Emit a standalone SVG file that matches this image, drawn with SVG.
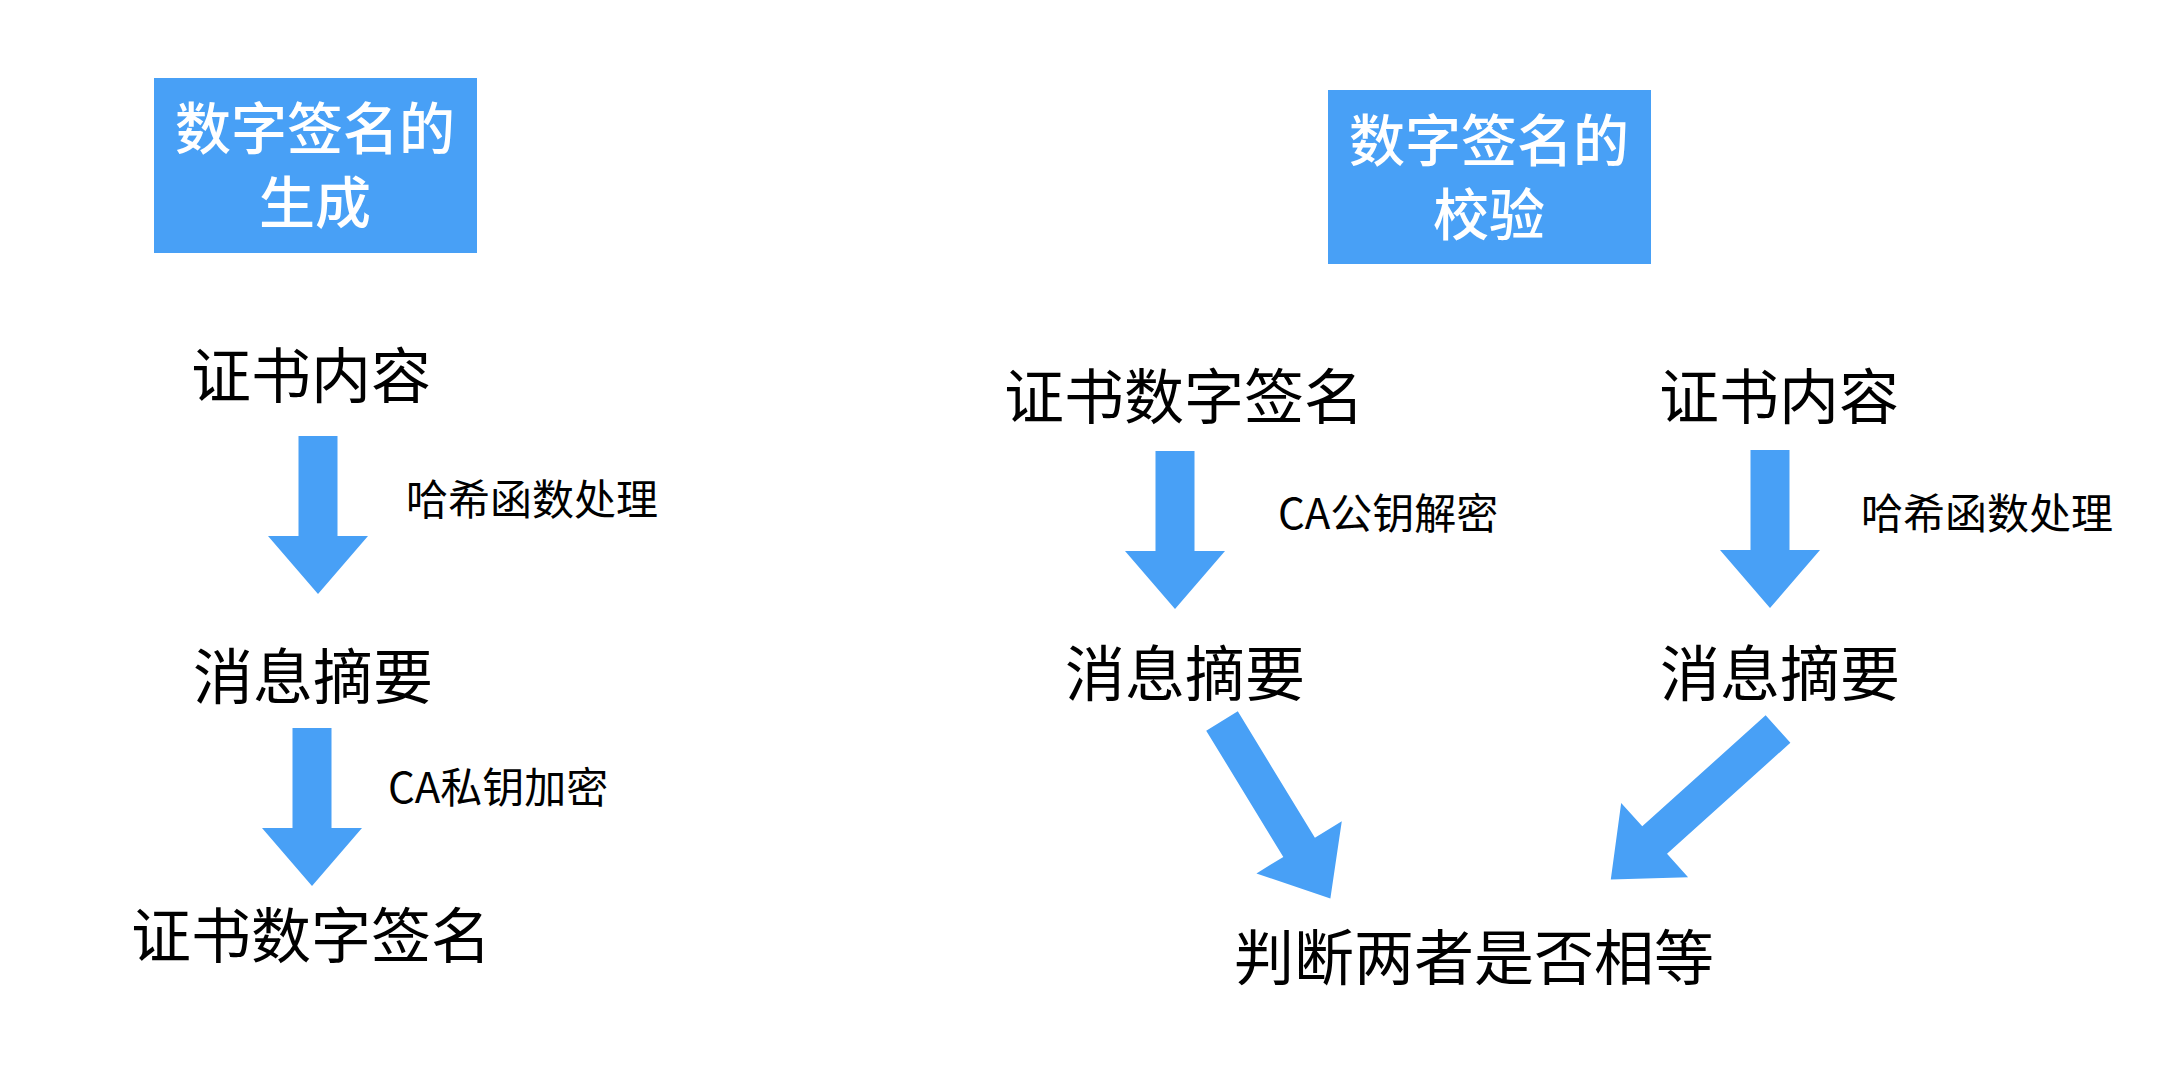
<svg xmlns="http://www.w3.org/2000/svg" xmlns:xlink="http://www.w3.org/1999/xlink" width="2182" height="1074" viewBox="0 0 2182 1074">
<style>
.box{fill:#48A0F6}
.arrow{fill:#48A0F6}
.title{font-family:"Noto Sans CJK SC","Noto Sans",sans-serif;font-size:56px;font-weight:500;fill:#ffffff;text-anchor:middle}
.main{font-family:"Noto Sans CJK SC","Noto Sans",sans-serif;font-size:60px;font-weight:400;fill:#000000;text-anchor:middle}
.label{font-family:"Noto Sans CJK SC","Noto Sans",sans-serif;font-size:42px;font-weight:400;fill:#000000}
</style>
<defs>
<path id="down" d="M-19.5,0 H19.5 V100 H50 L0,158 L-50,100 H-19.5 Z"/>
</defs>
<rect width="2182" height="1074" fill="#ffffff"/>
<g id="title-gen">
<rect class="box" x="154" y="78" width="323" height="175"/>
<text class="title" x="315" y="149">数字签名的</text>
<text class="title" x="315" y="223">生成</text>
</g>
<g id="title-verify">
<rect class="box" x="1328" y="90" width="323" height="174"/>
<text class="title" x="1489" y="161">数字签名的</text>
<text class="title" x="1489" y="235">校验</text>
</g>
<g id="gen-content"><text class="main" x="311" y="398">证书内容</text></g>
<g id="gen-digest"><text class="main" x="313" y="699">消息摘要</text></g>
<g id="gen-signature"><text class="main" x="311" y="958">证书数字签名</text></g>
<g id="ver-signature"><text class="main" x="1184" y="419">证书数字签名</text></g>
<g id="ver-content"><text class="main" x="1779" y="419">证书内容</text></g>
<g id="ver-digest-left"><text class="main" x="1185" y="696">消息摘要</text></g>
<g id="ver-digest-right"><text class="main" x="1780" y="696">消息摘要</text></g>
<g id="ver-compare"><text class="main" x="1474" y="980">判断两者是否相等</text></g>
<g id="connectors">
<use href="#down" xlink:href="#down" class="arrow" x="318" y="436"/>
<use href="#down" xlink:href="#down" class="arrow" x="312" y="728"/>
<use href="#down" xlink:href="#down" class="arrow" x="1175" y="451"/>
<use href="#down" xlink:href="#down" class="arrow" x="1770" y="450"/>
<path class="arrow" transform="translate(1222,721) rotate(-31.4)" d="M-18.5,0 H18.5 V148 H50 L0,208 L-50,148 H-18.5 Z"/>
<path class="arrow" transform="translate(1778,729) rotate(48)" d="M-18.5,0 H18.5 V166 H50 L0,225 L-50,166 H-18.5 Z"/>
<text class="label" x="406" y="515">哈希函数处理</text>
<text class="label" x="388" y="803">CA私钥加密</text>
<text class="label" x="1278" y="529">CA公钥解密</text>
<text class="label" x="1861" y="529">哈希函数处理</text>
</g>
</svg>
